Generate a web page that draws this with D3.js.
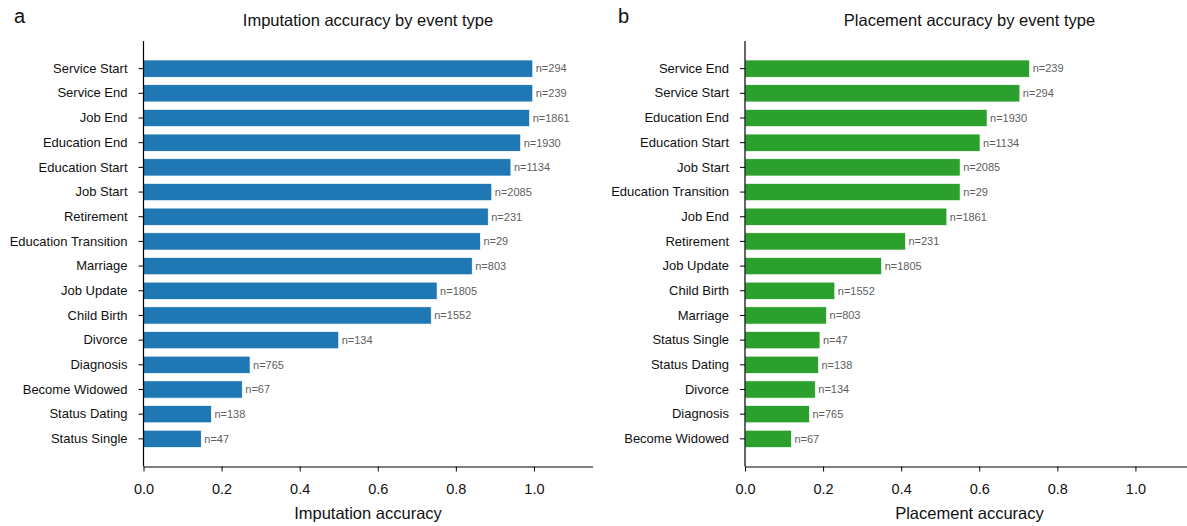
<!DOCTYPE html>
<html>
<head>
<meta charset="utf-8">
<script src="https://cdn.jsdelivr.net/npm/d3@7"></script>
<style>
  html, body { margin: 0; padding: 0; background: #fff; }
  svg { display: block; font-family: "Liberation Sans", Arial, Helvetica, sans-serif; }
</style>
</head>
<body>
<svg id="chart" width="1187" height="526"></svg>
<script>
// Panel a: imputation accuracy, sorted from highest to lowest
const imputationEvents = ["Service Start", "Service End", "Job End", "Education End", "Education Start",
  "Job Start", "Retirement", "Education Transition", "Marriage", "Job Update", "Child Birth",
  "Divorce", "Diagnosis", "Become Widowed", "Status Dating", "Status Single"];
const imputationAccuracy = [0.997, 0.997, 0.989, 0.966, 0.941, 0.892, 0.883, 0.863, 0.842, 0.752,
  0.737, 0.500, 0.273, 0.253, 0.174, 0.148];
const imputationCounts = [294, 239, 1861, 1930, 1134, 2085, 231, 29, 803, 1805, 1552, 134, 765, 67, 138, 47];

// Panel b: placement accuracy, sorted from highest to lowest
const placementEvents = ["Service End", "Service Start", "Education End", "Education Start", "Job Start",
  "Education Transition", "Job End", "Retirement", "Job Update", "Child Birth", "Marriage",
  "Status Single", "Status Dating", "Divorce", "Diagnosis", "Become Widowed"];
const placementAccuracy = [0.729, 0.704, 0.620, 0.602, 0.551, 0.551, 0.517, 0.411, 0.350, 0.230,
  0.209, 0.192, 0.188, 0.180, 0.165, 0.119];
const placementCounts = [239, 294, 1930, 1134, 2085, 29, 1861, 231, 1805, 1552, 803, 47, 138, 134, 765, 67];

const xTicks = [0, 0.2, 0.4, 0.6, 0.8, 1.0];
const xMax = 1.15;

const svg = d3.select("#chart");

function drawPanel(opts) {
  const { left, top, bottom, width, events, values, counts, color, title, xLabel, letter, letterX } = opts;

  const x = d3.scaleLinear().domain([0, xMax]).range([left, left + width]);
  const y = d3.scaleBand().domain(events).range([top, bottom])
    .paddingInner(0.3).paddingOuter(0.77);

  const g = svg.append("g");

  // bars
  g.selectAll("rect.bar").data(events).enter().append("rect")
    .attr("class", "bar")
    .attr("x", x(0))
    .attr("y", d => y(d))
    .attr("width", (d, i) => x(values[i]) - x(0))
    .attr("height", y.bandwidth())
    .attr("fill", color)
    .attr("stroke", "#ffffff")
    .attr("stroke-width", 0.7);

  // sample-size annotations
  g.selectAll("text.n").data(events).enter().append("text")
    .attr("class", "n")
    .attr("x", (d, i) => x(values[i]) + 3)
    .attr("y", d => y(d) + y.bandwidth() / 2)
    .attr("dy", "0.35em")
    .attr("font-size", 11)
    .attr("fill", "#606060")
    .text((d, i) => "n=" + counts[i]);

  // x axis
  const xAxis = g.append("g")
    .attr("transform", `translate(0,${bottom})`)
    .call(d3.axisBottom(x).tickValues(xTicks).tickFormat(d3.format(".1f"))
      .tickSize(5).tickSizeOuter(0).tickPadding(12));
  xAxis.select(".domain").attr("stroke", "#000").attr("stroke-width", 1.2);
  xAxis.selectAll(".tick line").attr("stroke", "#000").attr("stroke-width", 1);
  xAxis.selectAll(".tick text").attr("font-size", 14.5).attr("fill", "#111")
    .attr("font-family", "'Liberation Sans', Arial, sans-serif");

  // y axis
  const yAxis = g.append("g")
    .attr("transform", `translate(${left},0)`)
    .call(d3.axisLeft(y).tickSize(5).tickSizeOuter(0).tickPadding(11));
  yAxis.select(".domain").attr("stroke", "#000").attr("stroke-width", 1.2)
    .attr("d", `M0,${top}V${bottom}`);
  yAxis.selectAll(".tick line").attr("stroke", "#000").attr("stroke-width", 1);
  yAxis.selectAll(".tick text").attr("font-size", 13).attr("fill", "#111")
    .attr("font-family", "'Liberation Sans', Arial, sans-serif");

  // title and axis label
  g.append("text")
    .attr("x", left + width / 2).attr("y", 26)
    .attr("text-anchor", "middle").attr("font-size", 16.5).attr("fill", "#111")
    .text(title);
  g.append("text")
    .attr("x", left + width / 2).attr("y", 519)
    .attr("text-anchor", "middle").attr("font-size", 16.5).attr("fill", "#111")
    .text(xLabel);

  // panel letter
  g.append("text")
    .attr("x", letterX).attr("y", 23)
    .attr("font-size", 20).attr("fill", "#111")
    .text(letter);
}

const plotTop = 41;
const plotBottom = 466.5;
const plotWidth = 449;

drawPanel({
  left: 143.5, top: plotTop, bottom: plotBottom, width: plotWidth,
  events: imputationEvents, values: imputationAccuracy, counts: imputationCounts,
  color: "#1f77b4", title: "Imputation accuracy by event type",
  xLabel: "Imputation accuracy", letter: "a", letterX: 14
});

drawPanel({
  left: 745, top: plotTop, bottom: plotBottom, width: plotWidth,
  events: placementEvents, values: placementAccuracy, counts: placementCounts,
  color: "#2ca02c", title: "Placement accuracy by event type",
  xLabel: "Placement accuracy", letter: "b", letterX: 618
});
</script>
</body>
</html>
